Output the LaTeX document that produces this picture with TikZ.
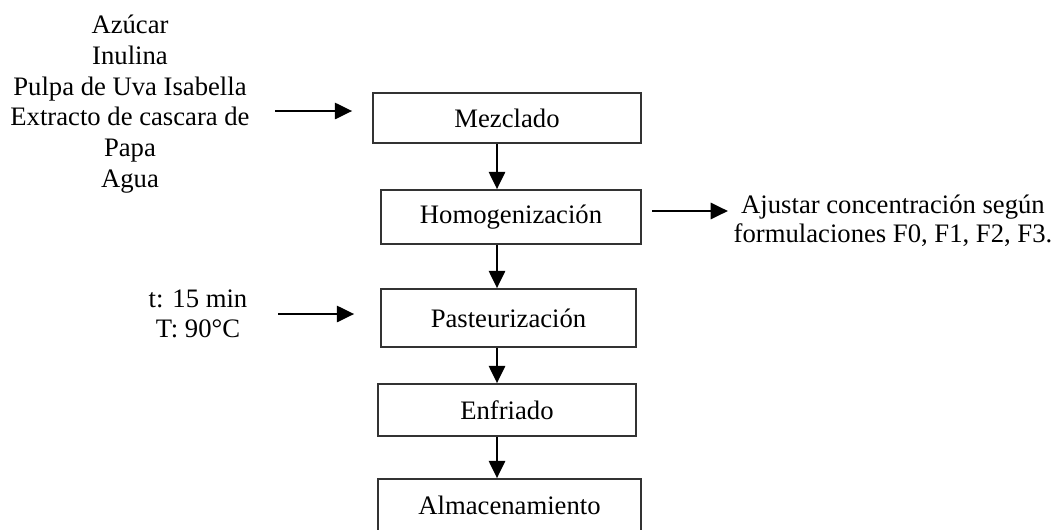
\documentclass[tikz,border=0pt]{standalone}
\usepackage{fontspec}
\setmainfont{Liberation Serif}
\usetikzlibrary{arrows.meta}
\begin{document}
\begin{tikzpicture}[x=0.75pt,y=-0.75pt,
  every node/.style={font=\fontsize{20pt}{23pt}\selectfont},
  stepbox/.style={draw=black!80, line width=1.2pt, inner sep=0pt, align=center},
  label/.style={inner sep=0pt, align=center, anchor=base},
  arr/.style={line width=2.2pt, -{Triangle[length=13pt,width=12pt]}}]
\useasboundingbox (0,0) rectangle (1056,529);
\clip (0,0) rectangle (1056,529);
% process boxes
\node[stepbox, minimum width=201pt, minimum height=37.5pt] (mez) at (507,118) {Mezclado};
\node[stepbox, minimum width=195pt, minimum height=40.5pt] (hom) at (511,217) {Homogenización};
\node[stepbox, minimum width=191.25pt, minimum height=43.5pt] (pas) at (508.5,318) {Pasteurización};
\node[stepbox, minimum width=193.5pt, minimum height=39pt] (enf) at (507,410) {Enfriado};
\node[stepbox, minimum width=197.25pt, minimum height=39pt] (alm) at (509.5,505) {Almacenamiento};
% side texts (base anchor = last line's baseline)
\node[label] (ing) at (130,187) {Azúcar\\Inulina\\Pulpa de Uva Isabella\\Extracto de cascara de\\Papa\\Agua};
\node[label, font=\fontsize{20pt}{21.75pt}\selectfont] (adj) at (893,242) {Ajustar concentración según\\formulaciones F0, F1, F2, F3.};
\node[label, font=\fontsize{20pt}{22.5pt}\selectfont] (tt) at (198,337) {t: 15 min\\T: 90°C};
% vertical arrows
\coordinate (col) at (497,0);
\draw[arr] (mez.south -| col) -- (hom.north -| col);
\draw[arr] (hom.south -| col) -- (pas.north -| col);
\draw[arr] (pas.south -| col) -- (enf.north -| col);
\draw[arr] (enf.south -| col) -- (alm.north -| col);
% side arrows
\coordinate (a1s) at (275,111);
\draw[arr, shorten >=15pt] (a1s) -- (mez.west |- a1s);
\coordinate (a2e) at (728,211);
\draw[arr, shorten <=8pt] (hom.east |- a2e) -- (a2e);
\coordinate (a3s) at (278,314);
\draw[arr, shorten >=19.5pt] (a3s) -- (pas.west |- a3s);
\end{tikzpicture}
\end{document}
